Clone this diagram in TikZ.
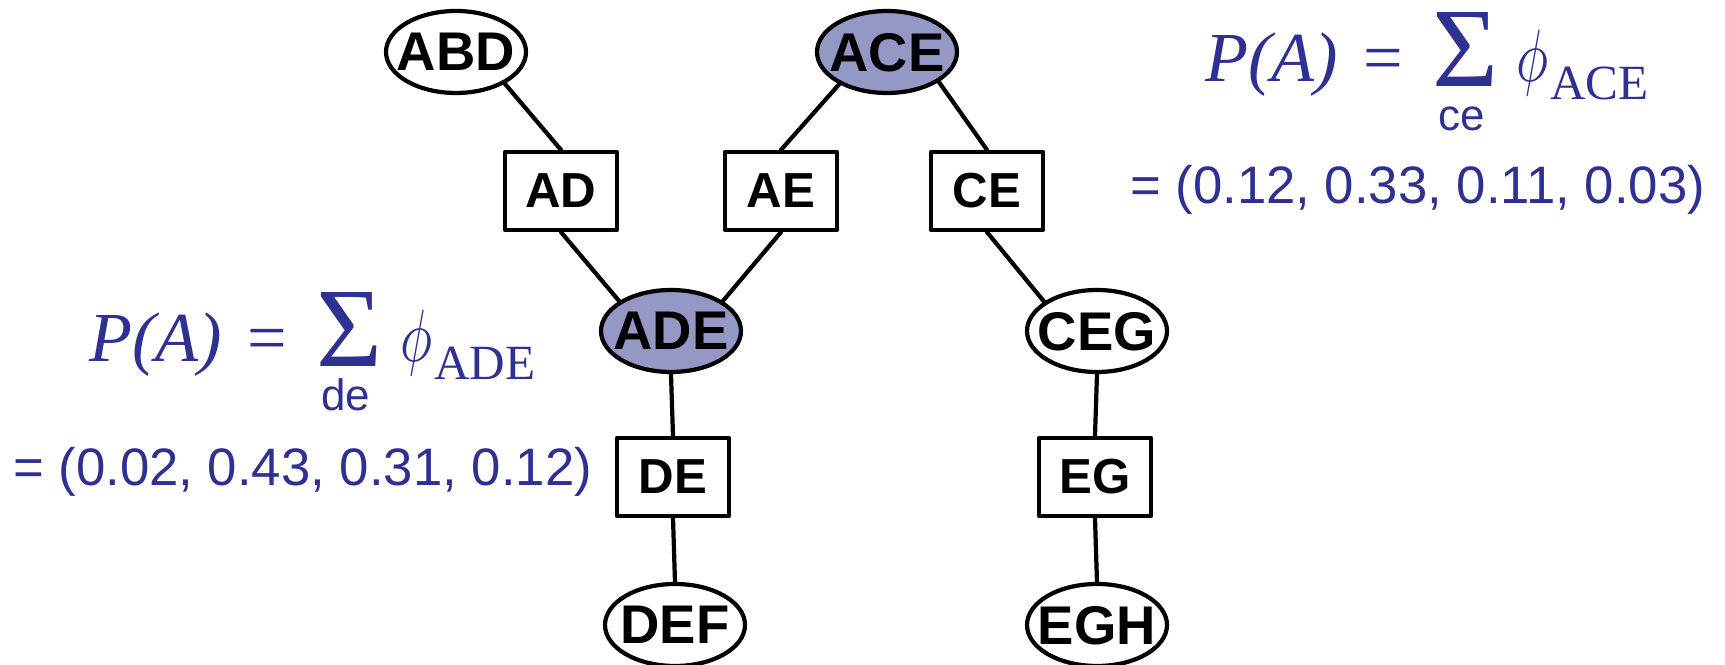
\documentclass[tikz,border=0pt]{standalone}
\usepackage{graphicx}
\usepackage{fontspec}
\setmainfont{Liberation Sans}
\newfontfamily\serifrm{Liberation Serif}
\usetikzlibrary{shapes.geometric}

\definecolor{cliquefill}{RGB}{149,151,197}
\definecolor{margblue}{RGB}{46,49,146}

% label that does not count for the size of the outline
\newcommand{\clab}[1]{\makebox[0pt]{\raisebox{-0.5\height}[0pt][0pt]{#1}}}

\begin{document}
\begin{tikzpicture}[
		line join = round,line cap = round,line width=1.2pt,
		clique/.style={ellipse,draw,fill=white,minimum width=1.40cm,minimum height=0.82cm,inner sep=0pt,font=\fontsize{15.5}{18}\selectfont\bfseries},
		cliqueon/.style={clique,fill=cliquefill},
		sepset/.style={rectangle,draw,fill=white,minimum width=1.12cm,minimum height=0.78cm,inner sep=0pt,font=\fontsize{14}{17}\selectfont\bfseries},
		formula/.style={text=margblue,inner sep=0pt},
		marginal/.style={formula,anchor=base west,font=\fontsize{15}{18}\selectfont}]
	\useasboundingbox (0,0) rectangle (17.25,-6.65);
	% cliques
	\node at (4.56,-0.52) (nodeABD) [clique] {\clab{ABD}};
	\node at (8.87,-0.52) (nodeACE) [cliqueon] {\clab{ACE}};
	\node at (6.71,-3.31) (nodeADE) [cliqueon] {\clab{ADE}};
	\node at (10.97,-3.31) (nodeCEG) [clique] {\clab{CEG}};
	\node at (6.75,-6.25) (nodeDEF) [clique] {\clab{DEF}};
	\node at (10.97,-6.25) (nodeEGH) [clique] {\clab{EGH}};
	% separators
	\node at (5.61,-1.91) (nodeAD) [sepset] {AD};
	\node at (7.81,-1.91) (nodeAE) [sepset] {AE};
	\node at (9.87,-1.91) (nodeCE) [sepset] {CE};
	\node at (6.73,-4.77) (nodeDE) [sepset] {DE};
	\node at (10.95,-4.77) (nodeEG) [sepset] {EG};
	% tree edges
	\draw (nodeABD.-33) -- (nodeAD.north);
	\draw (nodeAD.south) -- (nodeADE.150);
	\draw (nodeADE.30) -- (nodeAE.south);
	\draw (nodeAE.north) -- (nodeACE.214);
	\draw (nodeACE.-30) -- (nodeCE.north);
	\draw (nodeCE.south) -- (nodeCEG.151);
	\draw (nodeADE.south) -- (nodeDE.north);
	\draw (nodeDE.south) -- (nodeDEF.north);
	\draw (nodeCEG.south) -- (nodeEG.north);
	\draw (nodeEG.south) -- (nodeEGH.north);
	% P(A) summed out of the two blue cliques
	\foreach \px/\py/\vars/\clq in {0.87/-3.62/de/ADE, 12.03/-0.82/ce/ACE}{
		\begin{scope}[shift={(\px,\py)}]
			\node at (0,0) (nodePA\clq) [formula,anchor=base west,font=\fontsize{20}{24}\selectfont\serifrm\itshape] {P(A)};
			\node at (1.58,0) (nodeEq\clq) [formula,anchor=base west,font=\fontsize{20}{24}\selectfont\serifrm] {=};
			\node at (2.27,-0.07) (nodeSum\clq) [formula,anchor=south west] {\resizebox*{0.66cm}{0.74cm}{\serifrm Σ}};
			\node at (2.59,-0.49) (nodeVars\clq) [formula,anchor=base,font=\fontsize{12.5}{15}\selectfont] {\vars};
			\node at (3.11,-0.16) (nodePhi\clq) [formula,anchor=south west] {\resizebox*{0.32cm}{0.66cm}{$\phi$}};
			\node at (3.45,-0.18) (nodeSub\clq) [formula,anchor=base west,font=\fontsize{14}{17}\selectfont\serifrm] {\clq};
		\end{scope}
	}
	\node at (0.11,-4.86) (valsADE) [marginal] {= (0.02, 0.43, 0.31, 0.12)};
	\node at (11.28,-2.04) (valsACE) [marginal] {= (0.12, 0.33, 0.11, 0.03)};
\end{tikzpicture}
\end{document}
